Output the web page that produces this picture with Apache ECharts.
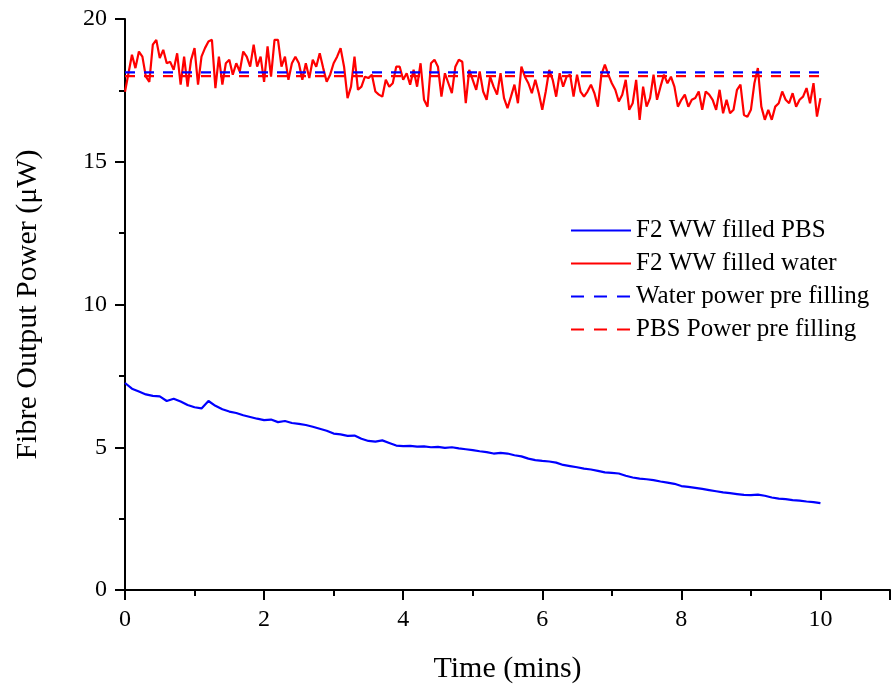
<!DOCTYPE html>
<html lang="en">
<head>
    <meta charset="UTF-8"/>
    <script src="https://cdn.jsdelivr.net/npm/echarts@6/dist/echarts.min.js"></script>
    <title>Fibre Output Power</title>
    <style>
        html, body { margin: 0; padding: 0; background: #fff; }
        #chart { width: 893px; height: 689px; }
    </style>
</head>
<body>
<div id="chart"></div>
<script type="text/javascript">
    // sampled every 0.05 min, 0 .. 10
    var redStep = 0.05;
    var waterFilled = [
        17.45, 18.10, 18.75, 18.28, 18.86, 18.68, 17.98, 17.80, 19.10, 19.27,
        18.63, 18.92, 18.45, 18.50, 18.22, 18.80, 17.70, 18.68, 17.63, 18.57,
        18.98, 17.70, 18.68, 18.98, 19.21, 19.27, 17.58, 18.68, 17.70, 18.45,
        18.57, 18.05, 18.45, 18.16, 18.86, 18.68, 18.33, 19.10, 18.33, 18.68,
        17.80, 19.04, 17.98, 19.27, 19.27, 18.33, 18.68, 17.87, 18.45, 18.68,
        18.45, 17.87, 18.45, 17.93, 18.57, 18.33, 18.80, 18.28, 17.80, 18.05,
        18.45, 18.68, 18.98, 18.33, 17.23, 17.63, 18.68, 17.52, 17.63, 17.98,
        17.93, 18.05, 17.46, 17.35, 17.28, 17.87, 17.63, 17.75, 18.33, 18.33,
        17.87, 18.10, 17.70, 18.22, 17.63, 18.45, 17.17, 16.93, 18.45, 18.57,
        18.33, 17.28, 18.10, 17.75, 17.40, 18.33, 18.57, 18.50, 17.05, 18.22,
        17.87, 17.52, 18.16, 17.46, 17.17, 17.98, 17.63, 17.35, 18.10, 17.23,
        16.88, 17.28, 17.70, 17.05, 18.33, 17.98, 17.75, 17.40, 17.87, 17.40,
        16.82, 17.46, 18.22, 17.87, 17.28, 18.10, 17.63, 17.98, 18.05, 17.28,
        18.05, 17.46, 17.28, 17.46, 17.70, 17.40, 16.93, 18.05, 18.40, 18.05,
        17.75, 17.52, 17.11, 17.35, 17.87, 16.82, 17.05, 17.87, 16.47, 17.63,
        16.93, 17.23, 18.05, 17.17, 17.63, 18.05, 17.75, 17.98, 17.63, 16.93,
        17.17, 17.35, 16.93, 17.17, 17.23, 17.46, 16.82, 17.46, 17.35, 17.17,
        16.82, 17.52, 16.70, 17.17, 16.70, 16.82, 17.52, 17.70, 16.64, 16.58,
        16.82, 17.75, 18.28, 16.93, 16.47, 16.82, 16.47, 16.93, 17.05, 17.46,
        17.17, 17.05, 17.40, 16.93, 17.17, 17.28, 17.58, 17.05, 17.75, 16.58,
        17.23
    ];

    // sampled every 0.1 min, 0 .. 10
    var blueStep = 0.1;
    var pbsFilled = [
        7.25, 7.05, 6.95, 6.85, 6.80, 6.78, 6.62, 6.70, 6.60, 6.48,
        6.40, 6.36, 6.62, 6.45, 6.33, 6.25, 6.20, 6.12, 6.06, 6.00,
        5.95, 5.97, 5.88, 5.92, 5.85, 5.82, 5.78, 5.72, 5.65, 5.58,
        5.48, 5.45, 5.40, 5.41, 5.30, 5.22, 5.20, 5.24, 5.15, 5.06,
        5.04, 5.05, 5.02, 5.03, 5.00, 5.01, 4.98, 5.00, 4.96, 4.93,
        4.90, 4.86, 4.83, 4.78, 4.80, 4.78, 4.72, 4.68, 4.60, 4.55,
        4.52, 4.50, 4.46, 4.38, 4.34, 4.30, 4.25, 4.22, 4.17, 4.12,
        4.10, 4.08, 4.00, 3.94, 3.90, 3.88, 3.85, 3.80, 3.76, 3.72,
        3.64, 3.61, 3.58, 3.54, 3.50, 3.46, 3.42, 3.39, 3.36, 3.33,
        3.32, 3.34, 3.30, 3.24, 3.20, 3.18, 3.15, 3.13, 3.10, 3.08,
        3.04
    ];

    var preTimes = [0, 10];
    var waterPre = [18.13, 18.13];
    var pbsPre = [18.0, 18.0];

    var seriesNames = ['F2 WW filled PBS', 'F2 WW filled water', 'Water power pre filling', 'PBS Power pre filling'];

    function toPairs(values, step) {
        var out = [];
        for (var i = 0; i < values.length; i++) {
            out.push([+(i * step).toFixed(2), values[i]]);
        }
        return out;
    }
    function zipPairs(xs, ys) {
        var out = [];
        for (var i = 0; i < xs.length; i++) {
            out.push([xs[i], ys[i]]);
        }
        return out;
    }

    var font = 'Liberation Serif, Times New Roman, serif';
    var myChart = echarts.init(document.getElementById('chart'));
    var axisCommon = {
        axisLine: { show: true, onZero: false, lineStyle: { color: '#000', width: 2 } },
        axisTick: { show: true, inside: false, length: 10, lineStyle: { color: '#000', width: 2 } },
        minorTick: { show: true, splitNumber: 2, length: 6, lineStyle: { color: '#000', width: 2 } },
        splitLine: { show: false },
        axisLabel: { color: '#000', fontFamily: font, fontSize: 24 },
        nameTextStyle: { color: '#000', fontFamily: font, fontSize: 30 },
        nameLocation: 'middle'
    };

    // legend: dashed entries get a wider dash so three dashes show
    var legendDash = { type: [13, 10] };
    var legendData = [
        { name: seriesNames[0] },
        { name: seriesNames[1] },
        { name: seriesNames[2], lineStyle: legendDash },
        { name: seriesNames[3], lineStyle: legendDash }
    ];

    var option = {
        backgroundColor: '#fff',
        animation: false,
        grid: { left: 125, right: 0, top: 19, bottom: 98, containLabel: false },
        legend: {
            data: legendData,
            orient: 'vertical',
            left: 565,
            top: 213,
            itemWidth: 60,
            itemHeight: 14,
            itemGap: 8,
            itemStyle: { opacity: 0 },
            lineStyle: { opacity: 1 },
            textStyle: { color: '#000', fontFamily: font, fontSize: 25 }
        },
        xAxis: Object.assign({}, axisCommon, {
            type: 'value',
            min: 0,
            max: 11,
            interval: 2,
            name: 'Time (mins)',
            nameGap: 64,
            axisLabel: Object.assign({}, axisCommon.axisLabel, { margin: 18,
                formatter: function (v) { return v > 10 ? '' : v; } })
        }),
        yAxis: Object.assign({}, axisCommon, {
            type: 'value',
            min: 0,
            max: 20,
            interval: 5,
            name: 'Fibre Output Power (\u03bcW)',
            nameGap: 82,
            axisLabel: Object.assign({}, axisCommon.axisLabel, { margin: 18 })
        }),
        series: [
            {
                name: seriesNames[1],
                type: 'line',
                symbol: 'none',
                data: toPairs(waterFilled, redStep),
                lineStyle: { color: '#ff0000', width: 2.2 },
                itemStyle: { color: '#ff0000' }
            },
            {
                name: seriesNames[0],
                type: 'line',
                symbol: 'none',
                data: toPairs(pbsFilled, blueStep),
                lineStyle: { color: '#0000ff', width: 2.2 },
                itemStyle: { color: '#0000ff' }
            },
            {
                name: seriesNames[3],
                type: 'line',
                symbol: 'none',
                data: zipPairs(preTimes, pbsPre),
                lineStyle: { color: '#ff0000', width: 2.2, type: [10, 9] },
                itemStyle: { color: '#ff0000' }
            },
            {
                name: seriesNames[2],
                type: 'line',
                symbol: 'none',
                data: zipPairs(preTimes, waterPre),
                lineStyle: { color: '#0000ff', width: 2.2, type: [10, 9] },
                itemStyle: { color: '#0000ff' }
            }
        ]
    };
    myChart.setOption(option);
</script>
</body>
</html>
